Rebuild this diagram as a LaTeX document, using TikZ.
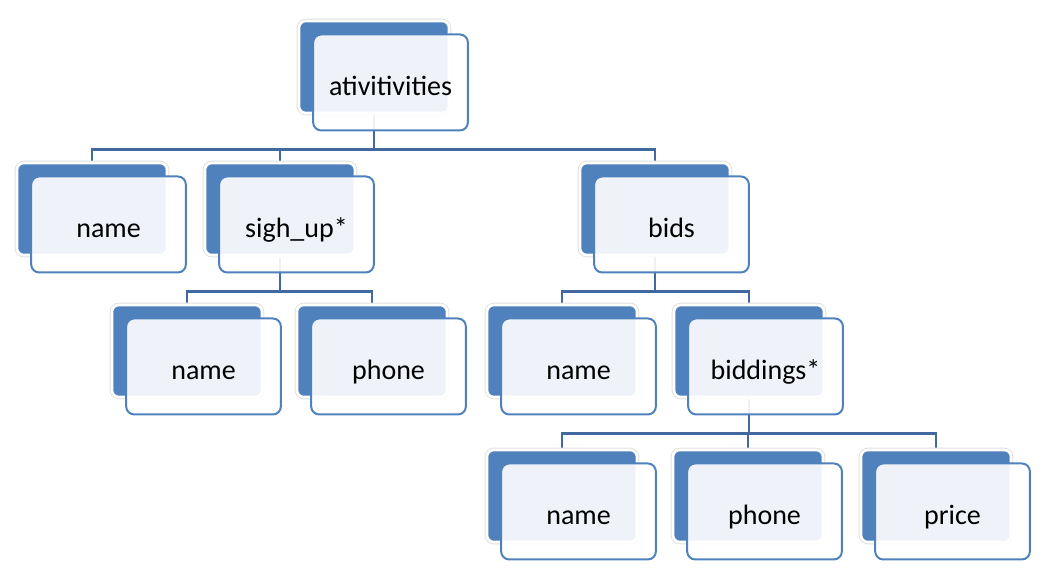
\documentclass[tikz,border=0pt]{standalone}
\usepackage{fontspec}
\setmainfont{Carlito}
\usepackage{xcolor}
\usepackage{tikz}
\usetikzlibrary{positioning,calc,backgrounds}
\definecolor{boxblue}{HTML}{4F81BD}
\definecolor{linkblue}{HTML}{41699F}

\begin{document}
\begin{tikzpicture}[
    x=0.75pt, y=-0.75pt,
    back/.style={rectangle, fill=boxblue, draw=white, line width=2pt, minimum width=112.5pt, minimum height=69pt, rounded corners=5pt, preaction={draw=black!12, line width=3.4pt}},
    front/.style={rectangle, draw=boxblue, line width=1.5pt, fill=white, fill opacity=0.91, text opacity=1, minimum width=116pt, minimum height=72pt, rounded corners=6pt, xshift=12.4pt, yshift=-11.6pt, text height=19.5pt, text depth=0pt, font=\fontsize{21}{25}\selectfont},
    link/.style={draw=linkblue, line width=2pt}
]
    \useasboundingbox (0,0) rectangle (1048,575);

    % Root
    \node[back] (actb) at (374,67) {};
    \node[front] (act) at (374,67) {ativitivities};

    % Layer 1
    \node[back] (n1b) at (92,209) {};
    \node[front] (n1) at (92,209) {name};
    \node[back] (sub) at (280,209) {};
    \node[front] (su) at (280,209) {sigh\_up*};
    \node[back] (bdb) at (655,209) {};
    \node[front] (bd) at (655,209) {bids};

    % Layer 2
    \node[back] (n2b) at (187,351) {};
    \node[front] (n2) at (187,351) {name};
    \node[back] (ph2b) at (372,351) {};
    \node[front] (ph2) at (372,351) {phone};
    \node[back] (n3b) at (562,351) {};
    \node[front] (n3) at (562,351) {name};
    \node[back] (bgb) at (749,351) {};
    \node[front] (bg) at (749,351) {biddings*};

    % Layer 3
    \node[back] (n4b) at (562,496) {};
    \node[front] (n4) at (562,496) {name};
    \node[back] (ph3b) at (748,496) {};
    \node[front] (ph3) at (748,496) {phone};
    \node[back] (prb) at (936,496) {};
    \node[front] (pr) at (936,496) {price};

    % Links - behind the boxes
    \begin{scope}[on background layer]
        \draw[link] (actb.south) -- ++(0,35) -| (n1b.north);
        \draw[link] (actb.south) -- ++(0,35) -| (sub.north);
        \draw[link] (actb.south) -- ++(0,35) -| (bdb.north);
        \draw[link] (sub.south) -- ++(0,35) -| (n2b.north);
        \draw[link] (sub.south) -- ++(0,35) -| (ph2b.north);
        \draw[link] (bdb.south) -- ++(0,35) -| (n3b.north);
        \draw[link] (bdb.south) -- ++(0,35) -| (bgb.north);
        \draw[link] (bgb.south) -- ++(0,35) -| (n4b.north);
        \draw[link] (bgb.south) -- ++(0,35) -| (ph3b.north);
        \draw[link] (bgb.south) -- ++(0,35) -| (prb.north);
    \end{scope}
\end{tikzpicture}
\end{document}
